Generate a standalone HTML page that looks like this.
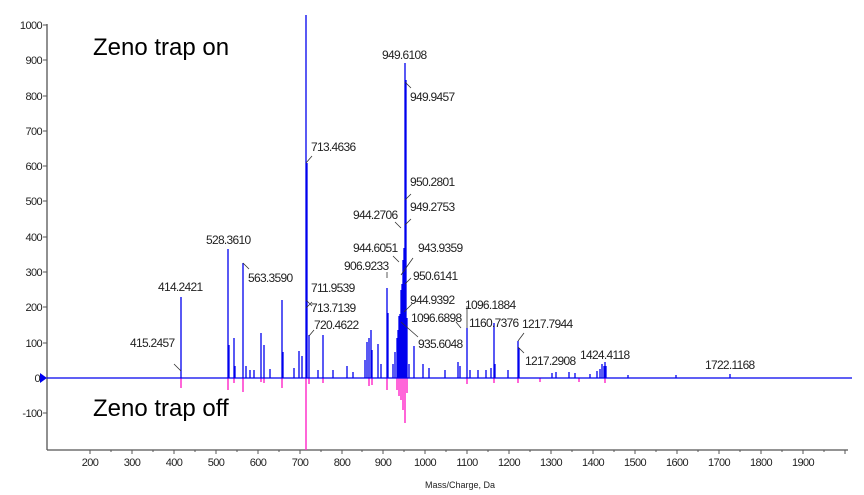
<!DOCTYPE html>
<html><head><style>body{margin:0;background:#fff}svg{display:block}text{font-family:"Liberation Sans",sans-serif}</style></head><body>
<svg width="864" height="495" viewBox="0 0 864 495">
<g stroke="#555" stroke-width="1.3" fill="none">
<line x1="47" y1="24" x2="47" y2="450"/>
<line x1="47" y1="450" x2="848" y2="450"/>
</g>
<g stroke="#555" stroke-width="1">
<path d="M43 25h4M43 60h4M43 96h4M43 131h4M43 166h4M43 201h4M43 237h4M43 272h4M43 307h4M43 343h4M43 378h4M43 413h4
M90 450v4M132 450v4M174 450v4M216 450v4M258 450v4M300 450v4M342 450v4M383 450v4M425 450v4M467 450v4M509 450v4M551 450v4M593 450v4M635 450v4M677 450v4M719 450v4M761 450v4M803 450v4M845 450v4
M111 450v2M153 450v2M195 450v2M237 450v2M279 450v2M321 450v2M362 450v2M404 450v2M446 450v2M488 450v2M530 450v2M572 450v2M614 450v2M656 450v2M698 450v2M740 450v2M782 450v2M824 450v2"/>
</g>
<g font-size="11" fill="#222" text-anchor="end" letter-spacing="-0.6">
<text x="42" y="29">1000</text><text x="42" y="64">900</text><text x="42" y="100">800</text><text x="42" y="135">700</text><text x="42" y="170">600</text><text x="42" y="205">500</text><text x="42" y="241">400</text><text x="42" y="276">300</text><text x="42" y="311">200</text><text x="42" y="347">100</text><text x="40" y="382">0</text><text x="42" y="417">-100</text>
</g>
<g font-size="11" fill="#222" text-anchor="middle" letter-spacing="-0.6">
<text x="90" y="466">200</text><text x="132" y="466">300</text><text x="174" y="466">400</text><text x="216" y="466">500</text><text x="258" y="466">600</text><text x="300" y="466">700</text><text x="342" y="466">800</text><text x="383" y="466">900</text><text x="425" y="466">1000</text><text x="467" y="466">1100</text><text x="509" y="466">1200</text><text x="551" y="466">1300</text><text x="593" y="466">1400</text><text x="635" y="466">1500</text><text x="677" y="466">1600</text><text x="719" y="466">1700</text><text x="761" y="466">1800</text><text x="803" y="466">1900</text>
<text x="460" y="488" font-size="9" letter-spacing="0">Mass/Charge, Da</text>
</g>
<g stroke="#ff33cc" stroke-width="1.5">
<path d="M181 378v10M228 378v12M234 378v5M243 378v14M261 378v4M264 378v5M282 378v10M306 378v72M309 378v6M323 378v5M369 378v8M372 378v7M387 378v12M397 378v12M399 378v18M401 378v22M403 378v32M405 378v45M407 378v15M467 378v6M494 378v5M518 378v5M605 378v5M540 378v4M579 378v4"/>
</g>
<g stroke="#0000ee" stroke-width="1.3">
<path d="M181 378v-81M228 378v-129M229 378v-33M234 378v-40M235 378v-12M243 378v-115M246 378v-12M250 378v-8M254 378v-8M261 378v-45M264 378v-33M270 378v-9M282 378v-78M283 378v-26M294 378v-10M299 378v-27M302 378v-22M306 378v-363M307 378v-215M309 378v-43M323 378v-43M318 378v-8M333 378v-8M347 378v-12M353 378v-6M365 378v-18M367 378v-36M369 378v-40M371 378v-48M372 378v-28M378 378v-34M381 378v-14M387 378v-90M388 378v-65M393 378v-14M395 378v-26M397 378v-40M398 378v-48M399 378v-62M400 378v-64M401 378v-88M402 378v-94M403 378v-118M404 378v-130M405 378v-315M406 378v-298M407 378v-60M409 378v-14M414 378v-32M423 378v-14M429 378v-10M445 378v-8M458 378v-16M460 378v-12M467 378v-50M470 378v-8M478 378v-8M486 378v-8M491 378v-10M494 378v-55M495 378v-14M508 378v-8M518 378v-37M519 378v-30M552 378v-5M556 378v-6M569 378v-6M575 378v-5M590 378v-4M597 378v-7M600 378v-9M602 378v-14M604 378v-12M605 378v-16M606 378v-12M628 378v-3M676 378v-3M730 378v-4"/>
<line x1="47" y1="378" x2="852" y2="378" stroke-width="1.2"/>
</g>
<path d="M40 373l7 5-7 5z" fill="#0000ee"/>
<g stroke="#333" stroke-width="0.8">
<path d="M174 364l7 7M243 263l6 6M306 163l6-7M306 308l6-6M306 300l6 6M309 336l5-6M405 82l6 6M405 200l6-6M405 225l6-6M401 228l-6-6M399 262l-6-6M401 275l12-17M405 284l6-6M404 312l8-8M401 322l17 15M467 328v-22M461 328l-5-6M518 341l6-8M518 347l6 6M387 278v-6"/>
</g>
<g font-size="12" fill="#222" letter-spacing="-0.7">
<text x="130" y="347">415.2457</text>
<text x="158" y="291">414.2421</text>
<text x="206" y="244">528.3610</text>
<text x="248" y="282">563.3590</text>
<text x="311" y="151">713.4636</text>
<text x="311" y="292">711.9539</text>
<text x="311" y="312">713.7139</text>
<text x="314" y="329">720.4622</text>
<text x="382" y="59">949.6108</text>
<text x="410" y="101">949.9457</text>
<text x="410" y="186">950.2801</text>
<text x="410" y="211">949.2753</text>
<text x="353" y="219">944.2706</text>
<text x="353" y="252">944.6051</text>
<text x="418" y="252">943.9359</text>
<text x="344" y="270">906.9233</text>
<text x="413" y="280">950.6141</text>
<text x="410" y="304">944.9392</text>
<text x="465" y="309">1096.1884</text>
<text x="411" y="322">1096.6898</text>
<text x="469" y="327">1160.7376</text>
<text x="522" y="328">1217.7944</text>
<text x="418" y="348">935.6048</text>
<text x="525" y="365">1217.2908</text>
<text x="580" y="359">1424.4118</text>
<text x="705" y="369">1722.1168</text>
</g>
<g font-size="24" fill="#000">
<text x="93" y="55">Zeno trap on</text>
<text x="93" y="416">Zeno trap off</text>
</g>
</svg>
</body></html>
